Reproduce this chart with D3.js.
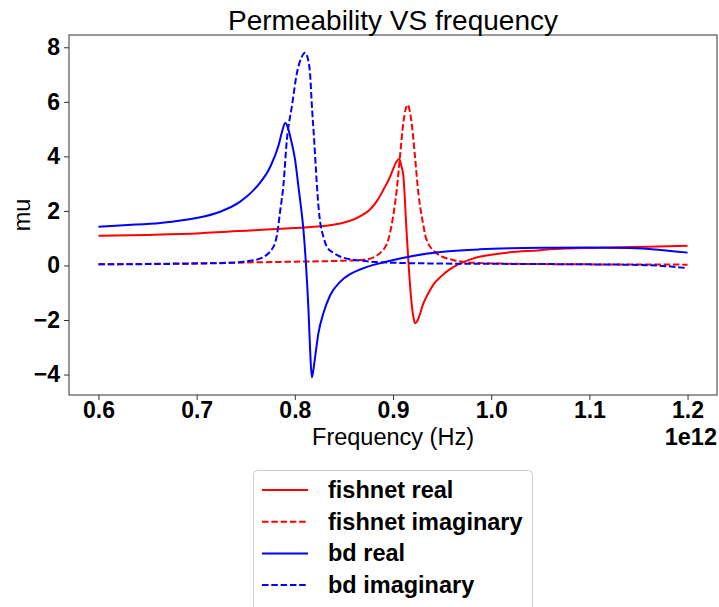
<!DOCTYPE html>
<html><head><meta charset="utf-8">
<script src="https://cdn.jsdelivr.net/npm/d3@7"></script>
<style>body{margin:0;background:#fff}svg{display:block}</style>
</head><body>
<svg id="chart" width="719" height="607"></svg>
<script>
// ---- data (frequency in units of 1e12 Hz) ----
const fishnetRealF = [0.600,0.650,0.7037,0.7309,0.7986,0.8393,0.8664,0.8766,0.8834,0.8901,0.8970,0.9003,0.9035,0.9064,0.9085,0.9105,0.9139,0.9156,0.9180,0.9207,0.9227,0.9250,0.9275,0.9300,0.9360,0.9420,0.9490,0.9570,0.9660,0.9820,1.000,1.016,1.050,1.060,1.110,1.160,1.200];
const fishnetRealV = [1.09,1.12,1.18,1.24,1.37,1.49,1.80,2.05,2.35,2.77,3.25,3.55,3.80,3.90,3.65,3.30,1.20,0.20,-1.02,-1.88,-2.12,-2.02,-1.78,-1.48,-1.02,-0.66,-0.40,-0.16,0.03,0.26,0.39,0.47,0.56,0.59,0.65,0.69,0.72];

const fishnetImagF = [0.600,0.700,0.800,0.846,0.866,0.873,0.890,0.8952,0.8987,0.9038,0.9071,0.9105,0.9149,0.9190,0.9224,0.9257,0.9283,0.9308,0.9336,0.9444,0.9613,0.9817,1.050,1.200];
const fishnetImagV = [0.04,0.08,0.14,0.17,0.20,0.22,0.57,0.94,1.50,2.77,3.99,5.22,5.89,5.22,3.99,2.70,2.00,1.50,1.00,0.45,0.20,0.10,0.05,0.03];

const bdRealF = [0.600,0.630,0.663,0.697,0.724,0.744,0.761,0.775,0.783,0.787,0.7902,0.7930,0.7953,0.8003,0.8037,0.8054,0.8088,0.8115,0.8139,0.8156,0.8173,0.8190,0.8207,0.8240,0.8291,0.8359,0.8461,0.8563,0.8664,0.880,0.8935,0.920,0.954,0.988,1.020,1.060,1.100,1.140,1.170,1.200];
const bdRealV = [1.42,1.48,1.56,1.72,1.97,2.33,2.88,3.62,4.35,4.90,5.22,5.05,4.73,3.87,2.89,2.40,1.30,-0.04,-1.63,-3.10,-4.10,-3.80,-3.35,-2.49,-1.75,-1.10,-0.60,-0.32,-0.15,0.02,0.14,0.35,0.51,0.59,0.63,0.65,0.66,0.64,0.58,0.47];

const bdImagF = [0.600,0.650,0.700,0.735,0.750,0.765,0.7783,0.7817,0.7851,0.7884,0.7919,0.7970,0.8021,0.8065,0.8105,0.8135,0.8156,0.8173,0.8197,0.8217,0.8240,0.8258,0.8291,0.8326,0.840,0.846,0.866,0.900,0.950,1.000,1.100,1.150,1.180,1.200];
const bdImagV = [0.04,0.05,0.07,0.10,0.15,0.26,0.69,1.10,2.00,2.95,4.61,5.83,7.05,7.60,7.80,7.55,7.00,5.90,4.60,3.40,2.20,1.60,1.05,0.69,0.45,0.33,0.18,0.10,0.07,0.06,0.04,0.02,-0.03,-0.10];

const xTicks = [0.6,0.7,0.8,0.9,1.0,1.1,1.2];
const xTickLabels = ["0.6","0.7","0.8","0.9","1.0","1.1","1.2"];
const yTicks = [-4,-2,0,2,4,6,8];
const yTickLabels = ["\u22124","\u22122","0","2","4","6","8"];
const seriesNames = ["fishnet real","fishnet imaginary","bd real","bd imaginary"];
const seriesColors = ["#ff0000","#ff0000","#0000ff","#0000ff"];
const seriesDashed = [false,true,false,true];

// ---- layout ----
const svg = d3.select("#chart");
const L = 69, R = 717, T = 35, B = 395;
const x = d3.scaleLinear().domain([0.57,1.23]).range([L,R]);
const y = d3.scaleLinear().domain([-4.75,8.45]).range([B,T]);
const font = "'Liberation Sans', Arial, sans-serif";

svg.append("rect").attr("width",719).attr("height",607).attr("fill","#fff");

const series = [
  {f:fishnetRealF, v:fishnetRealV},
  {f:fishnetImagF, v:fishnetImagV},
  {f:bdRealF, v:bdRealV},
  {f:bdImagF, v:bdImagV}
];

svg.append("clipPath").attr("id","clip").append("rect")
  .attr("x",L).attr("y",T).attr("width",R-L).attr("height",B-T);

const line = d3.line().x(d=>x(d[0])).y(d=>y(d[1])).curve(d3.curveMonotoneX);
const g = svg.append("g").attr("clip-path","url(#clip)");
series.forEach((s,i)=>{
  g.append("path")
    .datum(s.f.map((f,j)=>[f,s.v[j]]))
    .attr("d",line)
    .attr("fill","none")
    .attr("stroke",seriesColors[i])
    .attr("stroke-width",2)
    .attr("stroke-dasharray",seriesDashed[i]?"6.5,2.8":null)
    .attr("stroke-linejoin","round");
});

// frame
svg.append("rect").attr("x",L).attr("y",T).attr("width",R-L).attr("height",B-T)
  .attr("fill","none").attr("stroke","#333").attr("stroke-width",1);

// axes
const xAxis = d3.axisBottom(x).tickValues(xTicks).tickFormat((d,i)=>xTickLabels[i]).tickSize(5).tickPadding(2);
const gx = svg.append("g").attr("transform",`translate(0,${B})`).call(xAxis);
gx.select(".domain").remove();
gx.selectAll("line").attr("stroke","#333");
gx.selectAll("text").attr("font-family",font).attr("font-size",23).attr("font-weight","bold").attr("fill","#000");

const yAxis = d3.axisLeft(y).tickValues(yTicks).tickFormat((d,i)=>yTickLabels[i]).tickSize(5).tickPadding(4);
const gy = svg.append("g").attr("transform",`translate(${L},0)`).call(yAxis);
gy.select(".domain").remove();
gy.selectAll("line").attr("stroke","#333");
gy.selectAll("text").attr("font-family",font).attr("font-size",23).attr("font-weight","bold").attr("fill","#000");

// titles
svg.append("text").attr("x",(L+R)/2).attr("y",30).attr("text-anchor","middle")
  .attr("font-family",font).attr("font-size",28).attr("fill","#000").text("Permeability VS frequency");
svg.append("text").attr("x",(L+R)/2).attr("y",445).attr("text-anchor","middle")
  .attr("font-family",font).attr("font-size",23.5).attr("fill","#000").text("Frequency (Hz)");
svg.append("text").attr("x",R).attr("y",445).attr("text-anchor","end")
  .attr("font-family",font).attr("font-size",23.5).attr("font-weight","bold").attr("fill","#000").text("1e12");
svg.append("text").attr("transform",`translate(30,${(T+B)/2}) rotate(-90)`).attr("text-anchor","middle")
  .attr("font-family",font).attr("font-size",23.5).attr("fill","#000").text("mu");

// legend
const lg = svg.append("g");
lg.append("rect").attr("x",253.5).attr("y",470.5).attr("width",279).attr("height",150).attr("rx",4)
  .attr("fill","#fff").attr("stroke","#d0d0d0").attr("stroke-width",1);
seriesNames.forEach((n,i)=>{
  const yy = 490 + i*31.7;
  lg.append("line").attr("x1",262).attr("x2",308).attr("y1",yy).attr("y2",yy)
    .attr("stroke",seriesColors[i]).attr("stroke-width",2)
    .attr("stroke-dasharray",seriesDashed[i]?"6.5,2.8":null);
  lg.append("text").attr("x",328).attr("y",yy+8).attr("font-family",font).attr("font-size",23.5)
    .attr("font-weight","bold").attr("fill","#000").text(n);
});
</script>
</body></html>
